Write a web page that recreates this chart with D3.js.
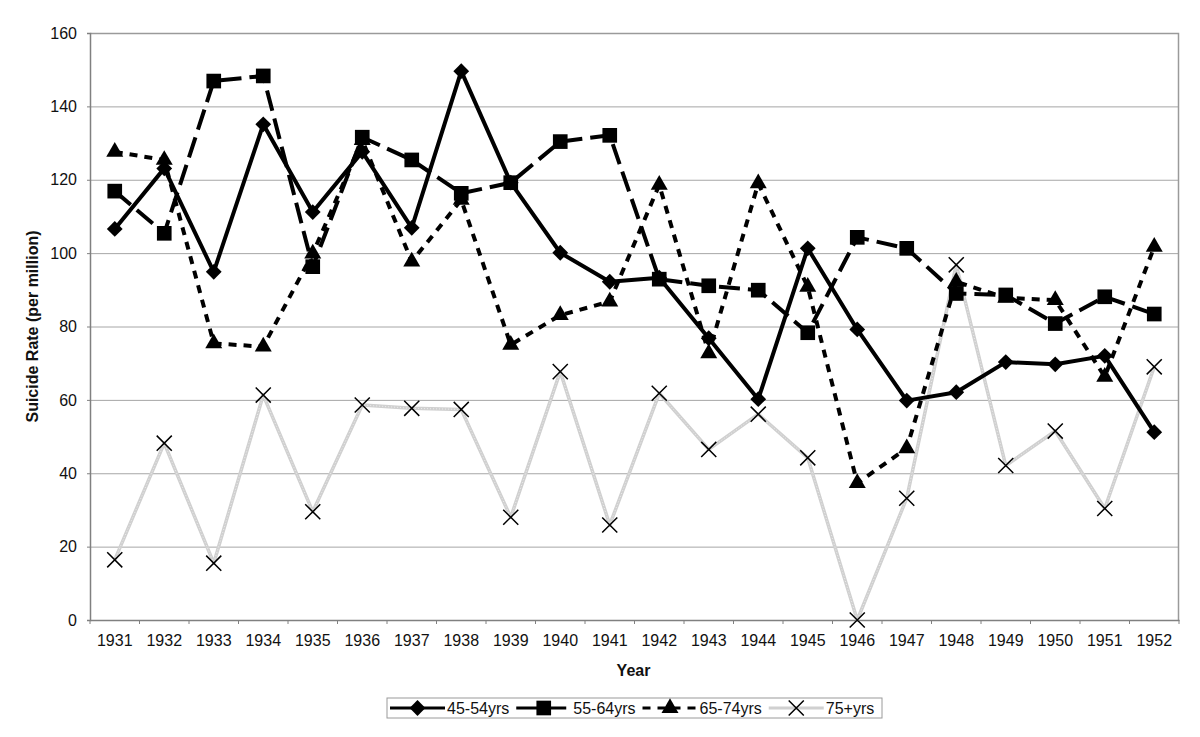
<!DOCTYPE html>
<html>
<head>
<meta charset="utf-8">
<title>suicide_rate</title>
<script src="https://cdn.jsdelivr.net/npm/d3@7"></script>
<style>
  html, body { margin: 0; padding: 0; background: #ffffff; overflow: hidden; }
  svg { display: block; }
</style>
</head>
<body>
<svg id="mainsvg" width="1200" height="737" font-family="Liberation Sans, Arial, sans-serif"></svg>
<script>
// data
const years = ['1931','1932','1933','1934','1935','1936','1937','1938','1939','1940','1941',
               '1942','1943','1944','1945','1946','1947','1948','1949','1950','1951','1952'];
const age45_54 = [106.6,123.1,94.9,135.1,111.2,127.6,106.9,149.6,119.2,100.1,92.2,
                  93.3,76.8,60.2,101.3,79.2,59.8,62.1,70.3,69.7,72.0,51.2];
const age55_64 = [116.9,105.4,146.9,148.3,96.3,131.6,125.4,116.3,119.2,130.4,132.1,
                  92.9,91.1,89.9,78.3,104.3,101.3,89.0,88.6,80.8,88.1,83.4];
const age65_74 = [127.6,125.4,75.4,74.5,99.9,130.8,97.7,114.5,75.0,83.1,86.8,
                  118.6,72.7,119.0,90.8,37.3,46.8,92.2,87.8,87.2,66.3,101.7];
const age75p   = [16.4,48.2,15.5,61.3,29.5,58.6,57.7,57.4,28.0,67.7,25.9,
                  61.8,46.5,56.1,44.2,0,33.2,96.8,42.1,51.5,30.4,69.0];
const yTicks = [0,20,40,60,80,100,120,140,160];

const seriesNames = ['45-54yrs','55-64yrs','65-74yrs','75+yrs'];

const svg = d3.select('#mainsvg');
const margin = {top: 33, right: 21, bottom: 117, left: 90};
const innerWidth = 1200 - margin.left - margin.right;
const innerHeight = 737 - margin.top - margin.bottom;
const fontFam = 'Liberation Sans, Arial, sans-serif';

const xScale = d3.scaleBand().domain(years).range([0, innerWidth]);
const yScale = d3.scaleLinear().domain([0,160]).range([innerHeight, 0]);

const g = svg.append('g').attr('transform', `translate(${margin.left},${margin.top})`);

// grid
g.selectAll('.grid').data(yTicks).join('line')
  .attr('x1', 0).attr('x2', innerWidth)
  .attr('y1', d => yScale(d) + 0.5).attr('y2', d => yScale(d) + 0.5)
  .attr('stroke', '#a6a6a6').attr('stroke-width', 1);

// plot frame (top and right)
g.append('path')
  .attr('d', `M0.5,0.5H${innerWidth - 0.5}V${innerHeight}`)
  .attr('fill', 'none').attr('stroke', '#9a9a9a').attr('stroke-width', 1.5);

// axes
const yAxis = d3.axisLeft(yScale).tickValues(yTicks).tickSize(3).tickPadding(10);
const yAxisGroup = g.append('g').call(yAxis).attr('font-family', fontFam).attr('font-size', 16);
yAxisGroup.select('.domain').attr('stroke', '#808080').attr('stroke-width', 1.5);
yAxisGroup.selectAll('.tick line').attr('stroke', '#808080');
yAxisGroup.selectAll('.tick text').attr('fill', '#111');

const xAxis = d3.axisBottom(xScale).tickSize(0).tickPadding(0);
const xAxisGroup = g.append('g').attr('transform', `translate(0,${innerHeight})`).call(xAxis)
  .attr('font-family', fontFam).attr('font-size', 16);
xAxisGroup.select('.domain').attr('stroke', '#808080').attr('stroke-width', 1.5);
xAxisGroup.selectAll('.tick text').attr('fill', '#111').attr('dy', null).attr('y', 26);
// tick marks at the category boundaries
xAxisGroup.selectAll('.bnd').data(years.concat(['end'])).join('line')
  .attr('x1', (d, i) => i * xScale.step()).attr('x2', (d, i) => i * xScale.step())
  .attr('y1', 0).attr('y2', 4)
  .attr('stroke', '#808080');

// axis titles
svg.append('text')
  .attr('transform', `translate(38,${margin.top + innerHeight / 2}) rotate(-90)`)
  .attr('text-anchor', 'middle')
  .attr('font-size', 16).attr('font-weight', 'bold').attr('fill', '#111')
  .text('Suicide Rate (per million)');
svg.append('text')
  .attr('x', margin.left + innerWidth / 2 - 1).attr('y', 676)
  .attr('text-anchor', 'middle')
  .attr('font-size', 16).attr('font-weight', 'bold').attr('fill', '#111')
  .text('Year');

// series styles
const styles = [
  {name: seriesNames[0], values: age45_54, stroke: '#000', width: 4, dash: null, marker: 'diamond'},
  {name: seriesNames[1], values: age55_64, stroke: '#000', width: 4, dash: '21,8', marker: 'square'},
  {name: seriesNames[2], values: age65_74, stroke: '#000', width: 4, dash: '8,7', marker: 'triangle'},
  {name: seriesNames[3], values: age75p,   stroke: '#d0d0d0', width: 3.5, dash: null, marker: 'cross'}
];

const symbolFor = {
  diamond: d3.symbol().type(d3.symbolSquare).size(125),
  square: d3.symbol().type(d3.symbolSquare).size(215),
  triangle: d3.symbol().type(d3.symbolTriangle).size(125),
  cross: d3.symbol().type(d3.symbolX).size(150)
};

function drawMarker(sel, type, tx, ty) {
  const rot = type === 'diamond' ? ' rotate(45)' : '';
  sel.attr('transform', `translate(${tx},${ty})${rot}`).attr('d', symbolFor[type]());
  if (type === 'cross') {
    sel.attr('fill', 'none').attr('stroke', '#000').attr('stroke-width', 1.5);
  } else {
    sel.attr('fill', '#000').attr('stroke', 'none');
  }
}

const line = d3.line()
  .x((d, i) => xScale(years[i]) + xScale.bandwidth() / 2)
  .y(d => yScale(d));

// draw oldest series first so it sits underneath
const order = [3, 2, 1, 0];
order.forEach(k => {
  const s = styles[k];
  const sg = g.append('g').attr('class', 'series');
  sg.append('path')
    .attr('d', line(s.values))
    .attr('fill', 'none')
    .attr('stroke', s.stroke)
    .attr('stroke-width', s.width)
    .attr('stroke-dasharray', s.dash)
    .attr('stroke-linejoin', 'round');
  if (k === 3) {
    // textured look of the grey line
    sg.append('path')
      .attr('d', line(s.values))
      .attr('fill', 'none')
      .attr('stroke', '#ffffff')
      .attr('stroke-width', 1)
      .attr('stroke-dasharray', '1,2')
      .attr('opacity', 0.6);
  }
  sg.selectAll('.m').data(s.values).join('path')
    .attr('class', 'm')
    .each(function(d, i) {
      drawMarker(d3.select(this), s.marker, xScale(years[i]) + xScale.bandwidth() / 2, yScale(d));
    });
});

// legend
const legend = svg.append('g').attr('transform', 'translate(387,698)');
legend.append('rect')
  .attr('width', 495).attr('height', 20)
  .attr('fill', '#fff').attr('stroke', '#9a9a9a');
let lx = 3;
const sample = 55;
styles.forEach(s => {
  const it = legend.append('g').attr('transform', `translate(${lx},10)`);
  it.append('line')
    .attr('x1', 0).attr('x2', sample).attr('y1', 0).attr('y2', 0)
    .attr('stroke', s.stroke).attr('stroke-width', 3)
    .attr('stroke-dasharray', s.dash);
  drawMarker(it.append('path'), s.marker, sample / 2, 0);
  const t = it.append('text')
    .attr('x', sample + 2).attr('y', 6)
    .attr('font-size', 16).attr('fill', '#111')
    .text(s.name);
  lx += sample + 2 + t.node().getComputedTextLength() + 7;
});
</script>
</body>
</html>
